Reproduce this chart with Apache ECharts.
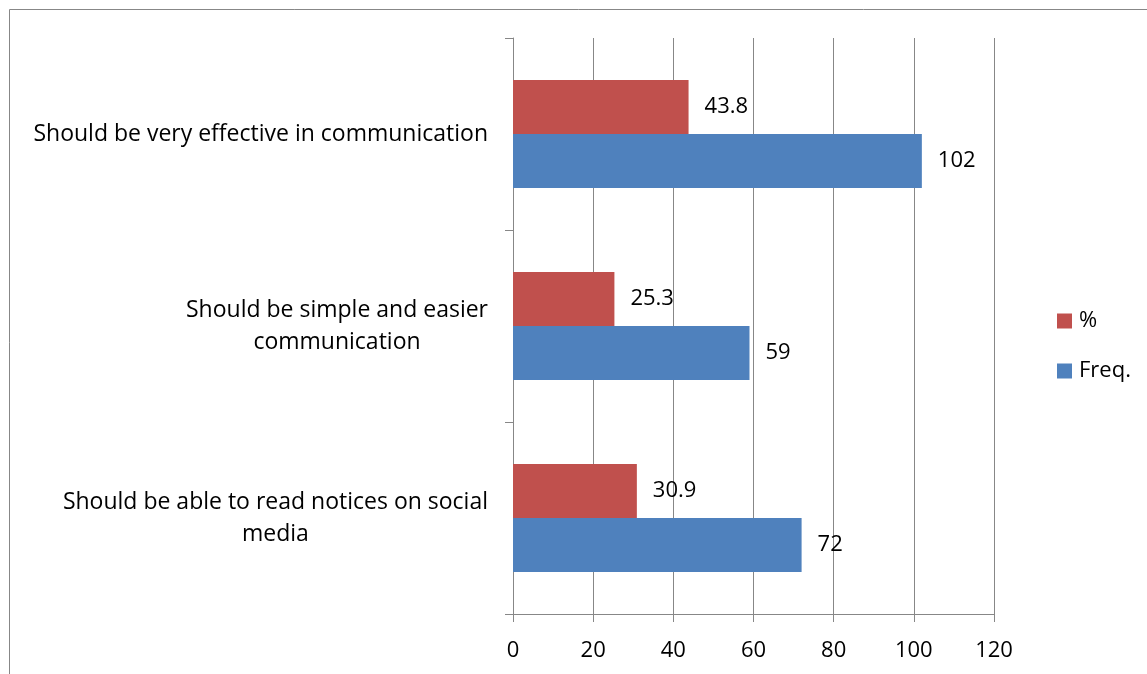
<!DOCTYPE html>
<html><head><meta charset="utf-8">
<script src="https://cdn.jsdelivr.net/npm/echarts@6/dist/echarts.min.js"></script>
<style>html,body{margin:0;padding:0;background:#fff}#c{width:1147px;height:674px}</style>
</head><body><div id="c"></div>
<script>
// categories bottom-to-top (ECharts category y axis starts at bottom)
const categories = [
  'Should be able to read notices on social\nmedia',
  'Should be simple and easier\ncommunication',
  'Should be very effective in communication'
];
const freqValues = [72, 59, 102];
const pctValues = [30.9, 25.3, 43.8];
const xTicks = [0, 20, 40, 60, 80, 100, 120];

const FONT = 'Open Sans';
const chart = echarts.init(document.getElementById('c'));
const labelCfg = {show: true, position: 'right', distance: 16, color: '#000', fontSize: 22, fontFamily: FONT};
chart.setOption({
  animation: false,
  graphic: [{type: 'rect', shape: {x: 9.5, y: 9.5, width: 1300, height: 800}, style: {fill: 'none', stroke: '#878787', lineWidth: 1}, silent: true}],
  grid: {left: 513, right: 153, top: 38, bottom: 60, containLabel: false},
  legend: {
    data: ['%', 'Freq.'], orient: 'vertical', left: 1057, top: 310, padding: 0,
    itemWidth: 15, itemHeight: 15, itemGap: 28, icon: 'rect',
    textStyle: {fontSize: 22, fontFamily: FONT, color: '#000', padding: [0, 0, 0, 2]}
  },
  xAxis: {
    type: 'value', min: xTicks[0], max: xTicks[xTicks.length - 1], interval: 20,
    axisLine: {show: true, lineStyle: {color: '#878787', width: 1}},
    axisTick: {show: true, length: 8, lineStyle: {color: '#878787'}},
    axisLabel: {color: '#000', fontSize: 22, fontFamily: FONT, margin: 26},
    splitLine: {show: true, lineStyle: {color: '#878787', width: 1}}
  },
  yAxis: {
    type: 'category', data: categories,
    axisLine: {show: true, lineStyle: {color: '#878787', width: 1}},
    axisTick: {show: true, length: 8, lineStyle: {color: '#878787'}},
    axisLabel: {
      color: '#000', fontSize: 23, fontFamily: FONT, margin: 25, lineHeight: 32,
      formatter: v => v.split('\n').map(s => '{c|' + s + '}').join('\n'),
      rich: {c: {align: 'center', fontSize: 23, fontFamily: FONT, color: '#000', lineHeight: 32}}
    },
    splitLine: {show: false}
  },
  series: [
    {name: '%', type: 'bar', data: pctValues, barGap: '0%', barCategoryGap: '43.75%',
     itemStyle: {color: '#C0504D'}, label: labelCfg},
    {name: 'Freq.', type: 'bar', data: freqValues, barGap: '0%', barCategoryGap: '43.75%',
     itemStyle: {color: '#4F81BD'}, label: labelCfg}
  ]
});
</script></body></html>
